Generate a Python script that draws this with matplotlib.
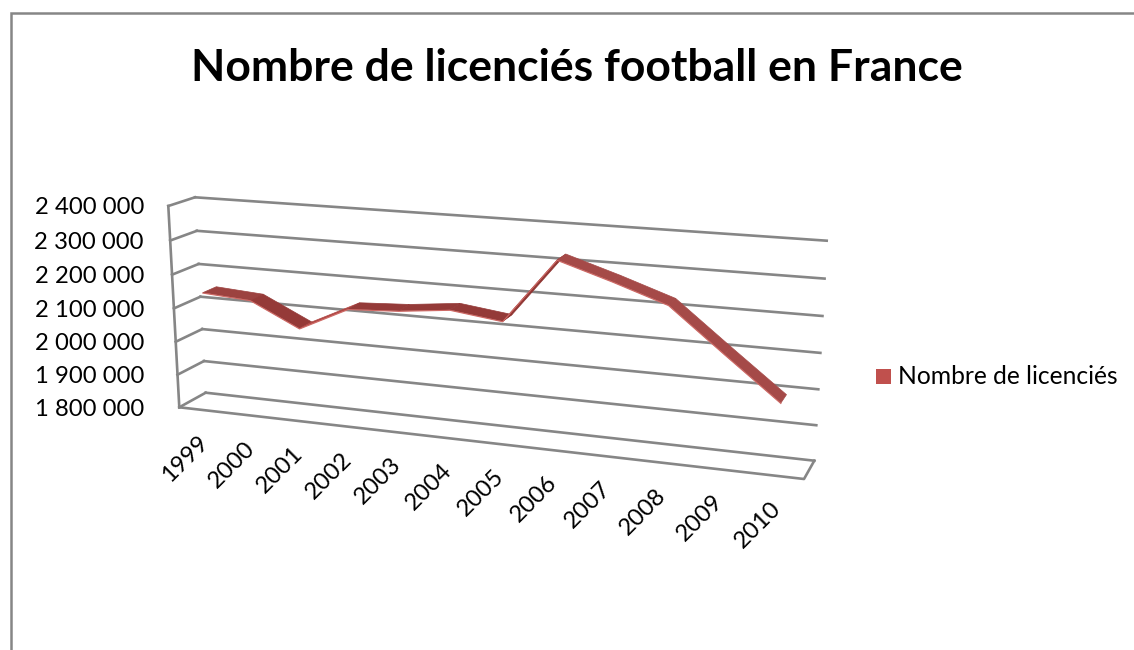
import numpy as np
import matplotlib
matplotlib.use('Agg')
import matplotlib.pyplot as plt
from matplotlib.transforms import Transform

plt.rcParams['font.family'] = ['Lato', 'DejaVu Sans']

annees = ['1999', '2000', '2001', '2002', '2003', '2004', '2005', '2006', '2007', '2008', '2009', '2010']
licencies = [2145000, 2135000, 2065000, 2135000, 2143000, 2159000, 2140000, 2322000, 2275000, 2224000, 2105000, 1988000]
graduations = [1800000, 1900000, 2000000, 2100000, 2200000, 2300000, 2400000]
etiquettes = ['1 800 000', '1 900 000', '2 000 000', '2 100 000', '2 200 000', '2 300 000', '2 400 000']
titre = 'Nombre de licenciés football en France'
serie = 'Nombre de licenciés'

GRIS = '#868686'
YMIN, YMAX = graduations[0], graduations[-1]
NX = len(annees)

# corners of the box in the picture: bottom left, bottom right, top right, top left
AVANT = np.array([(179.3, 407.3), (804, 479), (817, 252.5), (168.3, 206)])
ARRIERE = np.array([(205.7, 392.7), (814.3, 460.7), (826.7, 240.7), (195, 197.3)])


class Perspective(Transform):
    input_dims = 2
    output_dims = 2

    def __init__(self, coins):
        super().__init__()
        src = [(0, YMIN), (NX, YMIN), (NX, YMAX), (0, YMAX)]
        A, b = [], []
        for (u, v), (x, y) in zip(src, coins):
            v = (v - YMIN) / (YMAX - YMIN)
            A.append([u, v, 1, 0, 0, 0, -u * x, -v * x])
            A.append([0, 0, 0, u, v, 1, -u * y, -v * y])
            b += [x, y]
        self.h = np.append(np.linalg.solve(np.array(A), np.array(b)), 1).reshape(3, 3)

    def transform_non_affine(self, values):
        pts = np.asarray(values, dtype=float).reshape(-1, 2)
        v = (pts[:, 1] - YMIN) / (YMAX - YMIN)
        res = np.column_stack([pts[:, 0], v, np.ones(len(pts))]) @ self.h.T
        return res[:, :2] / res[:, 2:]


def plan(prof):
    # depth 0 is the front of the box, 1 the back wall
    return Perspective(AVANT + (ARRIERE - AVANT) * prof)


fig = plt.figure(figsize=(11.34, 6.5), dpi=100)
ax = fig.add_axes([0, 0, 1, 1])
ax.set_xlim(0, 1134)
ax.set_ylim(650, 0)
ax.axis('off')

# chart frame
ax.plot([10.5, 10.5, 1134], [650, 13, 13], color=GRIS, lw=1.8, solid_joinstyle='miter')

avant, fond = plan(0), plan(1)

# back wall and left wall
for val in graduations:
    ax.plot([0, NX], [val, val], color=GRIS, lw=1.9, transform=fond + ax.transData)
    p = np.vstack([avant.transform([[0, val]]), fond.transform([[0, val]])])
    ax.plot(p[:, 0], p[:, 1], color=GRIS, lw=1.9)

# axis edge and floor
p = avant.transform([[0, YMIN], [0, YMAX]])
ax.plot(p[:, 0], p[:, 1], color=GRIS, lw=1.9)
p = np.vstack([avant.transform([[0, YMIN], [NX, YMIN]]), fond.transform([[NX, YMIN]])])
ax.plot(p[:, 0], p[:, 1], color=GRIS, lw=1.9)

# ribbon
xs = np.arange(NX) + 0.5
pts = np.column_stack([xs, licencies])
bord_av = plan(0.24).transform(pts)
bord_ar = plan(0.76).transform(pts)
teintes = ['#9C4240', '#953A38', '#B04744', '#943A38', '#943A38', '#943A38', '#8F3532',
           '#A54A48', '#A54A48', '#A54A48', '#A54A48']
for i in range(NX - 1):
    poly = np.vstack([bord_av[i], bord_av[i + 1], bord_ar[i + 1], bord_ar[i]])
    ax.fill(poly[:, 0], poly[:, 1], color=teintes[i], lw=0.5, zorder=3)
ax.plot(bord_av[:, 0], bord_av[:, 1] + 0.4, color='#CF6A66', lw=0.8, zorder=4)

# tick labels
for val, txt in zip(graduations, etiquettes):
    x, y = avant.transform([[0, val]])[0]
    ax.text(144, y + 2, txt, ha='right', va='center', fontsize=17.2, color='black')
for x0, an in zip(xs, annees):
    x, y = avant.transform([[x0, YMIN]])[0]
    ax.text(x - 5, y + 22, an, ha='right', va='top', rotation=45, rotation_mode='anchor',
            fontsize=17.2, color='black')

# title and legend
ax.text(577, 68, titre, ha='center', va='center', fontsize=32, fontweight='bold', color='black')
ax.fill([876, 891, 891, 876], [369, 369, 384, 384], color='#C0504D', lw=0)
ax.text(898, 377, serie, ha='left', va='center', fontsize=17.7, color='black')

fig.savefig('out.png', dpi=100)
